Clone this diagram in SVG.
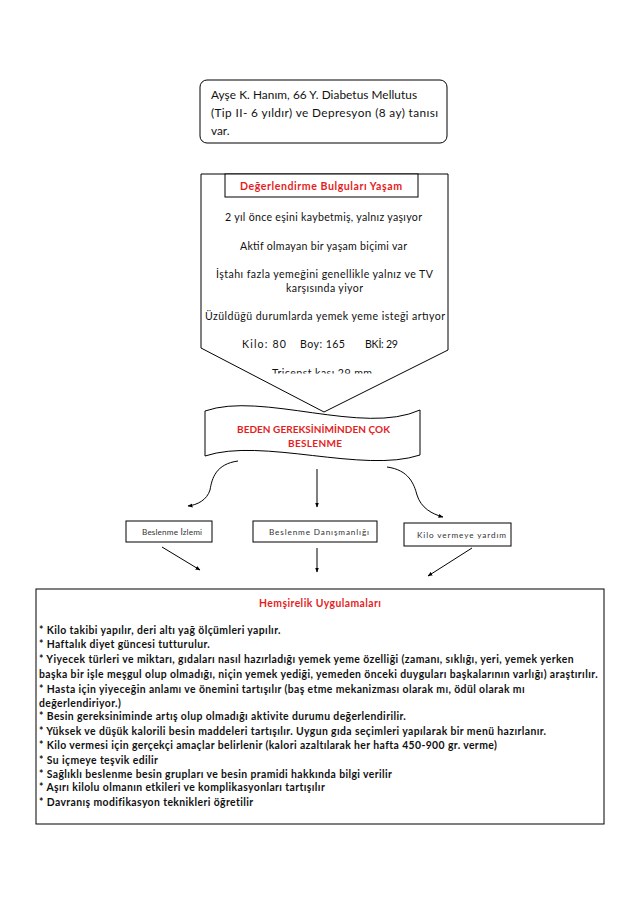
<svg xmlns="http://www.w3.org/2000/svg" width="638" height="903" viewBox="0 0 638 903">
<style>
  .box{fill:#fff;stroke:#000;stroke-width:1}
  .t{font-family:Lato,"Liberation Sans",sans-serif;fill:#111}
  .reg{font-size:10.6px}
  .top{font-size:11.8px}
  .red{fill:#e41e1e;font-weight:bold}
  .small{font-size:8.2px;fill:#333}
  .list{font-size:10.4px;font-weight:bold;fill:#111;letter-spacing:0.4px}
  .con{fill:none;stroke:#000;stroke-width:1}
</style>
<defs>
  <marker id="ah" viewBox="0 0 10 10" refX="9" refY="5" markerWidth="5" markerHeight="5" orient="auto" markerUnits="userSpaceOnUse">
    <path d="M0,1 L10,5 L0,9 Z" fill="#000"/>
  </marker>
  <clipPath id="clipTri"><rect x="190" y="330" width="270" height="43.5"/></clipPath>
</defs>
<rect width="638" height="903" fill="#fff"/>

<g id="patient">
  <rect class="box" x="200" y="80" width="247" height="63" rx="7"/>
  <text class="t top" x="211" y="99" textLength="206">Ayşe K. Hanım, 66 Y.  Diabetus Mellutus</text>
  <text class="t top" x="211" y="117" textLength="227">(Tip II- 6 yıldır) ve Depresyon (8 ay)  tanısı</text>
  <text class="t top" x="211" y="135">var.</text>
</g>

<g id="assessment">
  <path class="box" d="M201,174 L448,174 L448,350 L324,412 L201,348 Z"/>
  <rect class="box" x="225" y="174" width="193" height="23"/>
  <text class="t reg red" x="321" y="190" text-anchor="middle" textLength="162">Değerlendirme Bulguları Yaşam</text>
  <text class="t reg" x="323.5" y="221" text-anchor="middle" textLength="197">2 yıl önce eşini kaybetmiş, yalnız yaşıyor</text>
  <text class="t reg" x="323.5" y="250" text-anchor="middle" textLength="167">Aktif olmayan bir yaşam biçimi var</text>
  <text class="t reg" x="324.5" y="278" text-anchor="middle" textLength="217">İştahı fazla yemeğini genellikle yalnız ve TV</text>
  <text class="t reg" x="324.5" y="292" text-anchor="middle" textLength="77">karşısında yiyor</text>
  <text class="t reg" x="325" y="320" text-anchor="middle" textLength="240">Üzüldüğü durumlarda yemek yeme isteği artıyor</text>
  <text class="t reg" x="242" y="348" textLength="44">Kilo: 80</text>
  <text class="t reg" x="300" y="348" textLength="45">Boy: 165</text>
  <text class="t reg" x="365" y="348" textLength="33">BKİ: 29</text>
  <text class="t reg" x="272" y="376.5" textLength="100" clip-path="url(#clipTri)">Tricepst kası 29 mm</text>
</g>

<g id="diagnosis">
  <path class="box" d="M205,411 C262,391 363,436 420,410 L420,455 C363,474 262,437 205,456 Z"/>
  <text class="t red" style="font-size:10px" x="313.5" y="433" text-anchor="middle" textLength="153">BEDEN GEREKSİNİMİNDEN ÇOK</text>
  <text class="t red" style="font-size:10px" x="315" y="446.5" text-anchor="middle" textLength="54">BESLENME</text>
</g>

<g id="connectors">
  <path class="con" marker-end="url(#ah)" d="M238,461 C216,464 212,478 210,490 C207,500 197,505 188,506"/>
  <path class="con" marker-end="url(#ah)" d="M317,469 L317,507"/>
  <path class="con" marker-end="url(#ah)" d="M387,467 C409,470 414,484 417,495 C421,508 432,514 443,517"/>
  <path class="con" marker-end="url(#ah)" d="M162,547 L200,570"/>
  <path class="con" marker-end="url(#ah)" d="M317,548 L317,572"/>
  <path class="con" marker-end="url(#ah)" d="M472,548 L428,576"/>
</g>

<g id="monitoring">
  <rect class="box" x="126" y="521" width="86" height="21"/>
  <text class="t small" x="142" y="534.5" textLength="60">Beslenme İzlemi</text>
</g>
<g id="counselling">
  <rect class="box" x="253" y="521" width="124" height="21"/>
  <text class="t small" x="269" y="534.5" textLength="100">Beslenme Danışmanlığı</text>
</g>
<g id="weightloss">
  <rect class="box" x="404" y="523" width="107" height="23"/>
  <text class="t small" x="417" y="537.5" textLength="89">Kilo vermeye yardım</text>
</g>

<g id="nursing">
  <rect class="box" x="36" y="589" width="568" height="235"/>
  <text class="t red" style="font-size:10.4px" x="320" y="607" text-anchor="middle" textLength="122">Hemşirelik Uygulamaları</text>
  <text class="t list" x="39" y="634">* Kilo takibi yapılır, deri altı yağ ölçümleri yapılır.</text>
  <text class="t list" x="39" y="648">* Haftalık diyet güncesi tutturulur.</text>
  <text class="t list" x="39" y="663" textLength="535">* Yiyecek türleri ve miktarı, gıdaları nasıl hazırladığı yemek yeme özelliği (zamanı, sıklığı, yeri, yemek yerken</text>
  <text class="t list" x="39" y="678" textLength="559">başka bir işle meşgul olup olmadığı, niçin yemek yediği, yemeden önceki duyguları başkalarının varlığı) araştırılır.</text>
  <text class="t list" x="39" y="693">* Hasta için yiyeceğin anlamı ve önemini tartışılır (baş etme mekanizması olarak mı, ödül olarak mı</text>
  <text class="t list" x="39" y="707">değerlendiriyor.)</text>
  <text class="t list" x="39" y="720">* Besin gereksiniminde artış olup olmadığı aktivite durumu değerlendirilir.</text>
  <text class="t list" x="39" y="734.5">* Yüksek ve düşük kalorili besin maddeleri tartışılır. Uygun gıda seçimleri yapılarak bir menü hazırlanır.</text>
  <text class="t list" x="39" y="749">* Kilo vermesi için gerçekçi amaçlar belirlenir (kalori azaltılarak her hafta 450-900  gr. verme)</text>
  <text class="t list" x="39" y="763.5">* Su içmeye teşvik edilir</text>
  <text class="t list" x="39" y="778">* Sağlıklı beslenme besin grupları ve besin pramidi hakkında bilgi verilir</text>
  <text class="t list" x="39" y="791">* Aşırı kilolu olmanın etkileri ve komplikasyonları tartışılır</text>
  <text class="t list" x="39" y="806">* Davranış modifikasyon teknikleri öğretilir</text>
</g>
</svg>
